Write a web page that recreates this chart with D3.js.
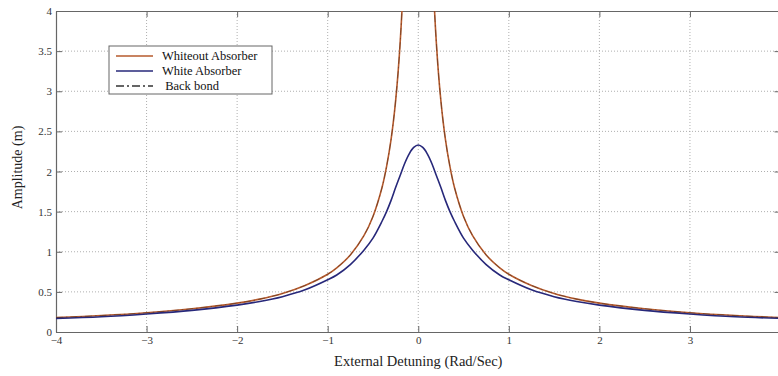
<!DOCTYPE html>
<html>
<head>
<meta charset="utf-8">
<script src="https://d3js.org/d3.v7.min.js"></script>
<style>
  body { margin: 0; background: #fff; }
  text { font-family: "Liberation Serif", "DejaVu Serif", serif; }
  .grid line { stroke: #9a9a9a; stroke-width: 0.8px; stroke-dasharray: 1,2; }
</style>
</head>
<body>
<div id="chart"></div>
<script>
  // detuning values (Rad/Sec) at which the curves were read
  const detuning = [-4, -3.5, -3, -2.5, -2, -1.75, -1.5, -1.25, -1, -0.9, -0.75, -0.6, -0.5, -0.4, -0.35, -0.3, -0.25, -0.2, -0.15, -0.1, -0.05, 0,
                    0.05, 0.1, 0.15, 0.2, 0.25, 0.3, 0.35, 0.4, 0.5, 0.6, 0.75, 0.9, 1, 1.25, 1.5, 1.75, 2, 2.5, 3, 3.5, 4];

  // amplitude (m) without absorber (goes off the top near 0)
  const withoutAbsorber = [0.18, 0.205, 0.24, 0.29, 0.36, 0.41, 0.48, 0.58, 0.72, 0.8, 0.96, 1.2, 1.44, 1.8, 2.06, 2.4, 2.88, 3.6, 4.8, 7.2, null, null,
                           null, 7.2, 4.8, 3.6, 2.88, 2.4, 2.06, 1.8, 1.44, 1.2, 0.96, 0.8, 0.72, 0.58, 0.48, 0.41, 0.36, 0.29, 0.24, 0.205, 0.18];

  // amplitude (m) with absorber
  const withAbsorber = [0.17, 0.19, 0.225, 0.27, 0.335, 0.38, 0.44, 0.525, 0.65, 0.71, 0.84, 1.02, 1.17, 1.38, 1.5, 1.64, 1.8, 1.95, 2.1, 2.22, 2.3, 2.33,
                        2.3, 2.22, 2.1, 1.95, 1.8, 1.64, 1.5, 1.38, 1.17, 1.02, 0.84, 0.71, 0.65, 0.525, 0.44, 0.38, 0.335, 0.27, 0.225, 0.19, 0.17];

  // back bond (dash-dot), lying on the undamped curve
  const backBond = [0.18, 0.205, 0.24, 0.29, 0.36, 0.41, 0.48, 0.58, 0.72, 0.8, 0.96, 1.2, 1.44, 1.8, 2.06, 2.4, 2.88, 3.6, 4.8, 7.2, null, null,
                    null, 7.2, 4.8, 3.6, 2.88, 2.4, 2.06, 1.8, 1.44, 1.2, 0.96, 0.8, 0.72, 0.58, 0.48, 0.41, 0.36, 0.29, 0.24, 0.205, 0.18];

  const xTicks = [-4, -3, -2, -1, 0, 1, 2, 3, 4];
  const xTickLabels = [-4, -3, -2, -1, 0, 1, 2, 3];
  const yTicks = [0, 0.5, 1, 1.5, 2, 2.5, 3, 3.5, 4];
  const legendLabels = ["Whiteout Absorber", "White Absorber", " Back bond"];

  const width = 778, height = 376;
  const plotLeft = 56, plotRight = 780.5, plotTop = 11, plotBottom = 332;

  const svg = d3.select("#chart").append("svg")
    .attr("width", width).attr("height", height);

  const x = d3.scaleLinear().domain([-4, 4]).range([plotLeft, plotRight]);
  const y = d3.scaleLinear().domain([0, 4]).range([plotBottom, plotTop]);

  svg.append("defs").append("clipPath").attr("id", "plot-clip")
    .append("rect").attr("x", plotLeft).attr("y", plotTop)
    .attr("width", plotRight - plotLeft).attr("height", plotBottom - plotTop);

  // grid
  const grid = svg.append("g").attr("class", "grid");
  grid.selectAll(".vx").data(xTicks.slice(1, -1)).enter().append("line")
    .attr("x1", d => x(d)).attr("x2", d => x(d)).attr("y1", plotTop).attr("y2", plotBottom);
  grid.selectAll(".hy").data(yTicks.slice(1, -1)).enter().append("line")
    .attr("y1", d => y(d)).attr("y2", d => y(d)).attr("x1", plotLeft).attr("x2", plotRight);

  // axes (ticks pointing inward, box style)
  const axisColor = "#666";
  const styleAxis = g => {
    g.select(".domain").attr("stroke", axisColor).attr("stroke-width", 1.2);
    g.selectAll(".tick line").attr("stroke", axisColor);
    g.selectAll(".tick text")
      .style("font-family", '"Liberation Serif", serif').style("font-size", "11px").attr("fill", "#333");
  };

  svg.append("g").attr("transform", `translate(0,${plotBottom})`)
    .call(d3.axisBottom(x).tickValues(xTicks)
      .tickFormat(d => xTickLabels.includes(d) ? d3.format("d")(d) : "")
      .tickSizeInner(-6).tickSizeOuter(0))
    .call(styleAxis)
    .call(g => g.selectAll(".tick text").attr("y", 4));

  svg.append("g").attr("transform", `translate(${plotLeft},0)`)
    .call(d3.axisLeft(y).tickValues(yTicks).tickFormat(d => d).tickSizeInner(-6).tickSizeOuter(0))
    .call(styleAxis)
    .call(g => g.selectAll(".tick text").attr("x", -4));

  svg.append("g").attr("transform", `translate(0,${plotTop})`)
    .call(d3.axisTop(x).tickValues(xTicks).tickFormat("").tickSizeInner(-6).tickSizeOuter(0))
    .call(styleAxis);

  svg.append("g").attr("transform", `translate(${plotRight},0)`)
    .call(d3.axisRight(y).tickValues(yTicks).tickFormat("").tickSizeInner(-6).tickSizeOuter(0))
    .call(styleAxis);

  // curves
  const toPoints = vals => detuning.map((d, i) => ({ x: d, a: vals[i] }));
  const line = d3.line()
    .defined(d => d.a !== null)
    .x(d => x(d.x)).y(d => y(d.a))
    .curve(d3.curveCatmullRom.alpha(0.5));

  const plot = svg.append("g").attr("clip-path", "url(#plot-clip)");

  plot.append("path").datum(toPoints(withoutAbsorber))
    .attr("fill", "none").attr("stroke", "#b65a2c").attr("stroke-width", 1.6).attr("d", line);

  plot.append("path").datum(toPoints(withAbsorber))
    .attr("fill", "none").attr("stroke", "#27287a").attr("stroke-width", 1.6).attr("d", line);

  plot.append("path").datum(toPoints(backBond))
    .attr("fill", "none").attr("stroke", "#3a2a20").attr("stroke-opacity", 0.45)
    .attr("stroke-width", 1).attr("stroke-dasharray", "7,3,1.5,3").attr("d", line);

  // axis titles
  svg.append("text")
    .attr("x", x(0)).attr("y", 366)
    .attr("text-anchor", "middle").style("font-size", "14.5px").attr("fill", "#222")
    .text("External Detuning (Rad/Sec)");

  svg.append("text")
    .attr("transform", `translate(22,${(plotTop + plotBottom) / 2 - 4}) rotate(-90)`)
    .attr("text-anchor", "middle").style("font-size", "14px").attr("fill", "#222")
    .text("Amplitude (m)");

  // legend
  const legend = svg.append("g");
  legend.append("rect")
    .attr("x", 109).attr("y", 46).attr("width", 163).attr("height", 48)
    .attr("fill", "#fff").attr("stroke", "#666").attr("stroke-width", 1);

  const legendStyles = [
    { color: "#b65a2c", dash: null, width: 1.6 },
    { color: "#27287a", dash: null, width: 1.6 },
    { color: "#333", dash: "8,3,2,3", width: 1.6 }
  ];
  const rowY = [56, 71, 86];

  legendLabels.forEach((label, i) => {
    legend.append("line")
      .attr("x1", 116).attr("x2", 153).attr("y1", rowY[i]).attr("y2", rowY[i])
      .attr("stroke", legendStyles[i].color).attr("stroke-width", legendStyles[i].width)
      .attr("stroke-dasharray", legendStyles[i].dash);
    legend.append("text")
      .attr("x", 162).attr("y", rowY[i]).attr("dy", "0.35em")
      .style("font-size", "12.5px").style("white-space", "pre").attr("fill", "#111")
      .text(label);
  });
</script>
</body>
</html>
